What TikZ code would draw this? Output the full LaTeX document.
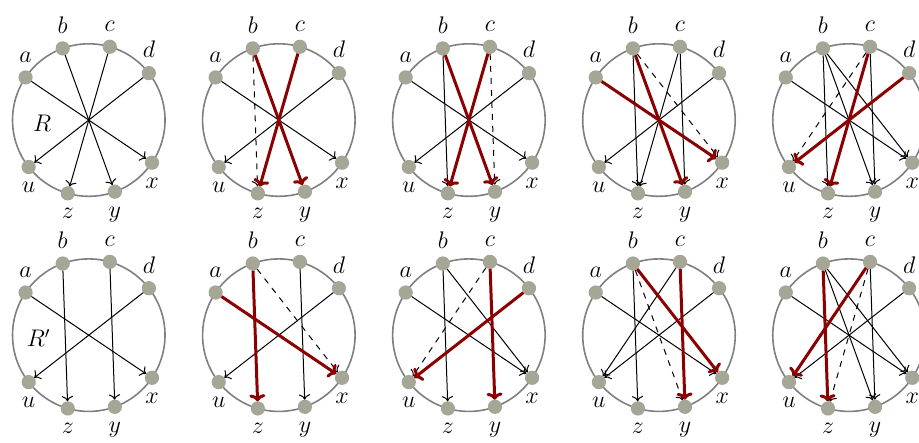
\documentclass[tikz,border=0pt]{standalone}
\usepackage{xcolor}
\usepackage{tikz}
\usetikzlibrary{arrows.meta}
\definecolor{RingGray}{HTML}{7F7F7F}
\definecolor{DotGray}{HTML}{A6A696}
\definecolor{SwapRed}{HTML}{8B0000}

\tikzset{
  ringline/.style={RingGray,line width=0.8pt},
  dot/.style={circle,fill=DotGray,minimum size=0.25cm,inner sep=0pt,outer sep=0pt},
  lbl/.style={font=\large,label distance=0.5pt},
  thinarr/.style={->,black,line width=0.5pt},
  dasharr/.style={->,black,line width=0.5pt,dashed},
  redarr/.style={-{To[length=3.5pt,width=8pt]},SwapRed,line width=1.5pt},
}

% one ring of eight points, #1,#2 centre, #3 name prefix
\newcommand{\ring}[3]{%
  \begin{scope}[shift={(#1,#2)}]
    \draw[ringline] (0,0) circle (1.34);
    \node[dot,label={[lbl]above:$a$}] (#3a) at (146:1.34) {};
    \node[dot,label={[lbl]above:$b$}] (#3b) at (110:1.34) {};
    \node[dot,label={[lbl]above:$c$}] (#3c) at (74:1.34) {};
    \node[dot,label={[lbl]above:$d$}] (#3d) at (38:1.34) {};
    \node[dot,label={[lbl]below:$u$}] (#3u) at (218:1.34) {};
    \node[dot,label={[lbl]below:$z$}] (#3z) at (254:1.34) {};
    \node[dot,label={[lbl]below:$y$}] (#3y) at (290:1.34) {};
    \node[dot,label={[lbl]below:$x$}] (#3x) at (326:1.34) {};
  \end{scope}}

\begin{document}
\begin{tikzpicture}[x=1cm,y=1cm]
\path[use as bounding box] (0,0) rectangle (16.15,7.77);

% top row
\ring{1.56}{5.66}{p}
\node[font=\large] (rname) at (0.74,5.61) {$R$};
\draw[thinarr] (pa) -- (px);
\draw[thinarr] (pb) -- (py);
\draw[thinarr] (pc) -- (pz);
\draw[thinarr] (pd) -- (pu);

\ring{4.90}{5.66}{q}
\draw[thinarr] (qa) -- (qx);
\draw[thinarr] (qd) -- (qu);
\draw[dasharr] (qb) -- (qz);
\draw[redarr] (qb) -- (qy);
\draw[redarr] (qc) -- (qz);

\ring{8.24}{5.66}{r}
\draw[thinarr] (ra) -- (rx);
\draw[thinarr] (rd) -- (ru);
\draw[thinarr] (rb) -- (rz);
\draw[dasharr] (rc) -- (ry);
\draw[redarr] (rb) -- (ry);
\draw[redarr] (rc) -- (rz);

\ring{11.58}{5.66}{s}
\draw[thinarr] (sb) -- (sz);
\draw[thinarr] (sc) -- (sz);
\draw[thinarr] (sc) -- (sy);
\draw[thinarr] (sd) -- (su);
\draw[dasharr] (sb) -- (sx);
\draw[redarr] (sa) -- (sx);
\draw[redarr] (sb) -- (sy);

\ring{14.92}{5.66}{t}
\draw[thinarr] (ta) -- (tx);
\draw[thinarr] (tb) -- (tz);
\draw[thinarr] (tb) -- (ty);
\draw[thinarr] (tb) -- (tx);
\draw[thinarr] (tc) -- (ty);
\draw[dasharr] (tc) -- (tu);
\draw[redarr] (tc) -- (tz);
\draw[redarr] (td) -- (tu);

% bottom row
\ring{1.56}{1.88}{k}
\node[font=\large] (rpname) at (0.68,1.83) {$R'$};
\draw[thinarr] (ka) -- (kx);
\draw[thinarr] (kb) -- (kz);
\draw[thinarr] (kc) -- (ky);
\draw[thinarr] (kd) -- (ku);

\ring{4.90}{1.88}{l}
\draw[thinarr] (lc) -- (ly);
\draw[thinarr] (ld) -- (lu);
\draw[dasharr] (lb) -- (lx);
\draw[redarr] (la) -- (lx);
\draw[redarr] (lb) -- (lz);

\ring{8.24}{1.88}{m}
\draw[thinarr] (ma) -- (mx);
\draw[thinarr] (mb) -- (mz);
\draw[thinarr] (mb) -- (mx);
\draw[dasharr] (mc) -- (mu);
\draw[redarr] (mc) -- (my);
\draw[redarr] (md) -- (mu);

\ring{11.58}{1.88}{n}
\draw[thinarr] (na) -- (nx);
\draw[thinarr] (nb) -- (nz);
\draw[thinarr] (nc) -- (nu);
\draw[thinarr] (nd) -- (nu);
\draw[dasharr] (nb) -- (ny);
\draw[redarr] (nb) -- (nx);
\draw[redarr] (nc) -- (ny);

\ring{14.92}{1.88}{o}
\draw[thinarr] (oa) -- (ox);
\draw[thinarr] (od) -- (ou);
\draw[thinarr] (ob) -- (oy);
\draw[thinarr] (ob) -- (ox);
\draw[thinarr] (oc) -- (oy);
\draw[dasharr] (oc) -- (oz);
\draw[redarr] (ob) -- (oz);
\draw[redarr] (oc) -- (ou);
\end{tikzpicture}
\end{document}
